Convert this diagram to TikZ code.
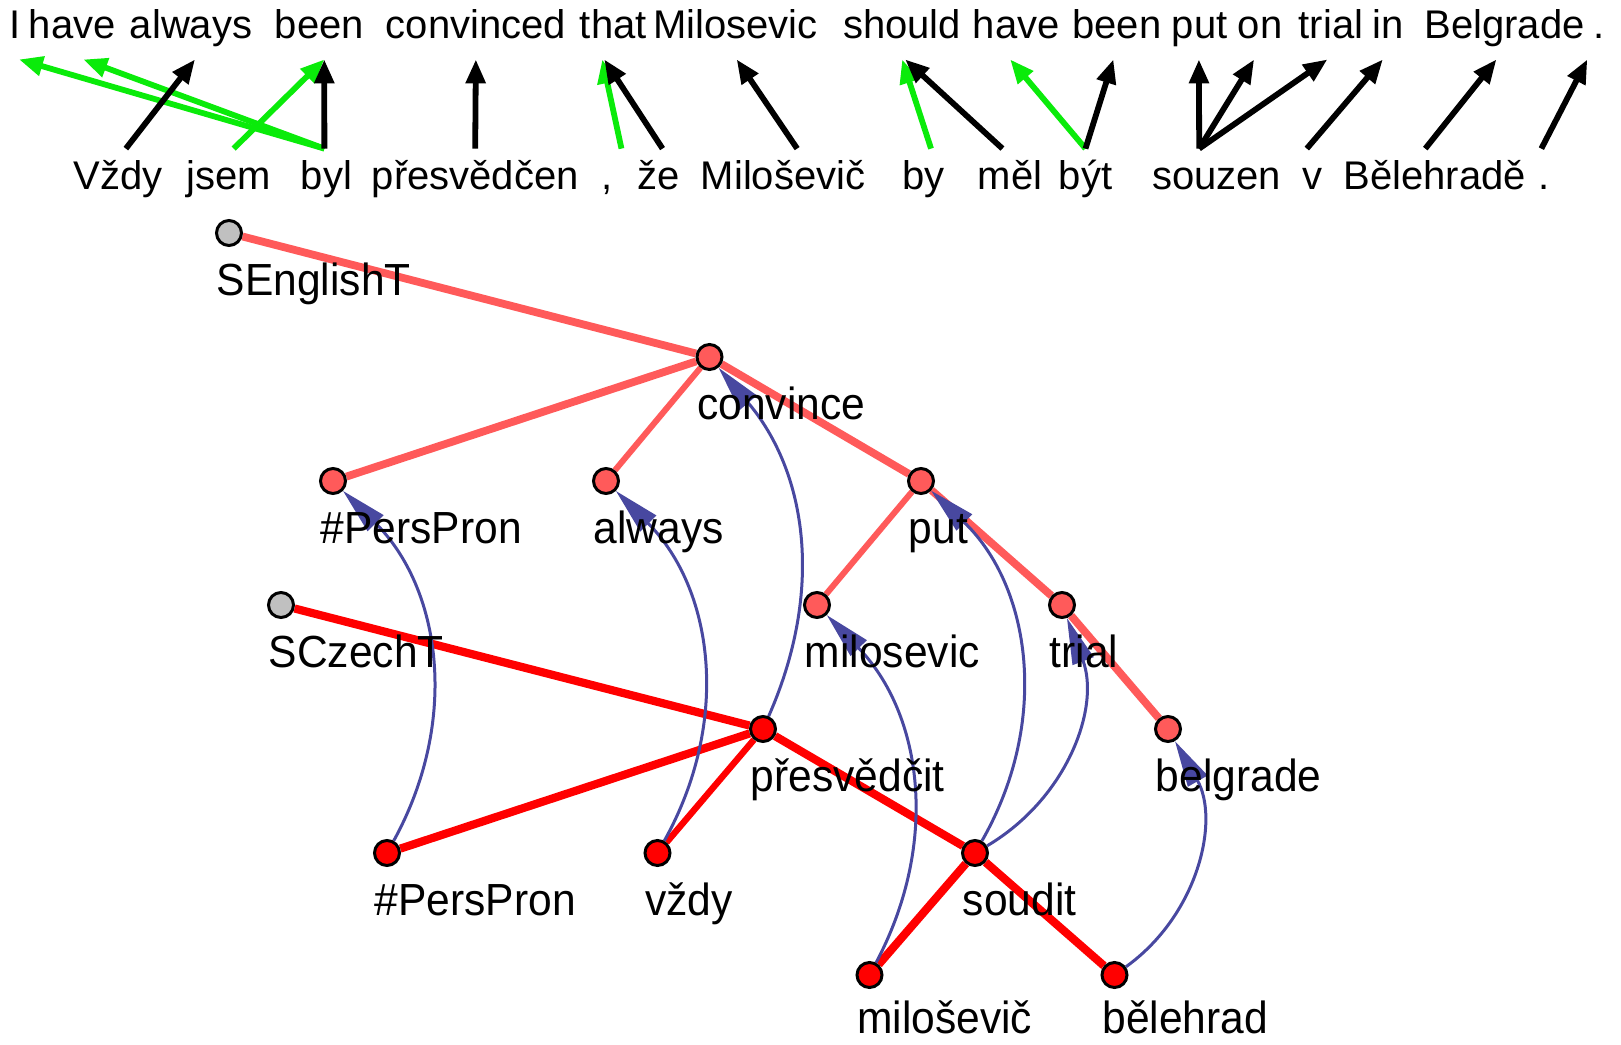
\documentclass[tikz,border=0pt]{standalone}
\usepackage{fontspec}
\setmainfont{Liberation Sans}
\newfontfamily\labfont[FakeStretch=0.945]{Liberation Sans}
\usetikzlibrary{arrows.meta}

\definecolor{enfill}{RGB}{255,90,90}
\definecolor{czfill}{RGB}{255,0,0}
\definecolor{rootfill}{RGB}{192,192,192}
\definecolor{alignblue}{RGB}{72,72,160}
\definecolor{alngreen}{RGB}{10,235,10}

\pgfdeclarelayer{edges}
\pgfsetlayers{edges,main}

\begin{document}
\begin{tikzpicture}[x=0.5pt,y=-0.5pt,
  tn/.style={circle,draw=black,line width=1.5pt,minimum size=12.5pt,inner sep=0pt},
  ent/.style={tn,fill=enfill},
  czt/.style={tn,fill=czfill},
  root/.style={tn,fill=rootfill},
  tlab/.style={anchor=base west,inner sep=0pt,text depth=0pt,font=\labfont\fontsize{22.5pt}{27pt}\selectfont},
  enw/.style={anchor=base west,inner sep=0pt,text depth=10pt,font=\fontsize{20pt}{24pt}\selectfont},
  czw/.style={anchor=base west,inner sep=0pt,text height=20pt,font=\fontsize{20pt}{24pt}\selectfont},
  wa/.style={line width=2.9pt,-{Triangle[length=12pt,width=9.5pt]}},
  blk/.style={wa,draw=black,fill=black},
  grn/.style={wa,draw=alngreen,fill=alngreen},
  enE/.style={line width=3.9pt,draw=enfill},
  enEthin/.style={line width=3pt,draw=enfill},
  czE/.style={line width=4.1pt,draw=czfill},
  czEthin/.style={line width=3.2pt,draw=czfill},
  aln/.style={line width=1.5pt,draw=alignblue,-{Triangle[length=23pt,width=11pt,fill=alignblue]}},
]
\useasboundingbox (0,0) rectangle (1621,1044);

% English sentence
\node[enw] (w1)  at (9,39)      {I};
\node[enw] (w2)  at (28.5,39)   {have};
\node[enw] (w3)  at (129.5,39)  {always};
\node[enw] (w4)  at (274.4,39)  {been};
\node[enw] (w5)  at (385.4,39)  {convinced};
\node[enw] (w6)  at (579.5,39)  {that};
\node[enw] (w7)  at (653,39)    {Milosevic};
\node[enw] (w8)  at (842.8,39)  {should};
\node[enw] (w9)  at (972.4,39)  {have};
\node[enw] (w10) at (1072,39)   {been};
\node[enw] (w11) at (1171.4,39) {put};
\node[enw] (w12) at (1237.5,39) {on};
\node[enw] (w13) at (1298.3,39) {trial};
\node[enw] (w14) at (1372.4,39) {in};
\node[enw] (w15) at (1424,39)   {Belgrade};
\node[enw] (w16) at (1593,39)   {.};

% Czech sentence
\node[czw] (c1)  at (73,189)     {Vždy};
\node[czw] (c2)  at (186,189)    {jsem};
\node[czw] (c3)  at (300.4,189)  {byl};
\node[czw] (c4)  at (371.4,189)  {přesvědčen};
\node[czw] (c5)  at (601.5,189)  {,};
\node[czw] (c6)  at (637,189)    {že};
\node[czw] (c7)  at (700.5,189)  {Miloševič};
\node[czw] (c8)  at (902,189)    {by};
\node[czw] (c9)  at (977.4,189)  {měl};
\node[czw] (c10) at (1058.4,189) {být};
\node[czw] (c11) at (1151.8,189) {souzen};
\node[czw] (c12) at (1301.7,189) {v};
\node[czw] (c13) at (1343,189)   {Bělehradě};
\node[czw] (c14) at (1538,189)   {.};

% word alignment arrows
\draw[grn] ([xshift=2.5pt]c2.north) -- ([xshift=2.5pt]w4.south);
\draw[grn] ([xshift=-1pt]c3.north) -- ([xshift=2pt]w1.south);
\draw[grn] ([xshift=-1pt]c3.north) -- ([xshift=5.5pt]w2.south);
\draw[grn] ([xshift=7pt]c5.north) -- ([xshift=-5.5pt]w6.south);
\draw[grn] ([xshift=3.75pt]c8.north) -- (w8.south);
\draw[grn] (c10.north) -- ([xshift=-3pt]w9.south);
\draw[blk] ([xshift=4pt]c1.north) -- ([xshift=2pt]w3.south);
\draw[blk] ([xshift=-1pt]c3.north) -- ([xshift=2.5pt]w4.south);
\draw[blk] (c4.north) -- (w5.south);
\draw[blk] ([xshift=2pt]c6.north) -- ([xshift=-4.5pt]w6.south);
\draw[blk] ([xshift=7pt]c7.north) -- ([xshift=0.5pt]w7.south);
\draw[blk] ([xshift=-3.8pt]c9.north) -- ([xshift=1.5pt]w8.south);
\draw[blk] (c10.north) -- ([xshift=-1.75pt]w10.south);
\draw[blk] ([xshift=-8.75pt]c11.north) -- ([xshift=-0.35pt]w11.south);
\draw[blk] ([xshift=-8.75pt]c11.north) -- ([xshift=-3pt]w12.south);
\draw[blk] ([xshift=-8.75pt]c11.north) -- ([xshift=-1.75pt]w13.south);
\draw[blk] ([xshift=-2.65pt]c12.north) -- ([xshift=-2.75pt]w14.south);
\draw[blk] ([xshift=-4.65pt]c13.north) -- ([xshift=-4pt]w15.south);
\draw[blk] ([xshift=-1.3pt]c14.north) -- ([xshift=-5.8pt]w16.south);

% English tree
\node[root] (sEng)   at (229,233)    {};
\node[ent]  (convince) at (709.5,357) {};
\node[ent]  (ePP)    at (333,481)    {};
\node[ent]  (always) at (606,481)    {};
\node[ent]  (put)    at (921,481)    {};
\node[ent]  (milosevic) at (817,605) {};
\node[ent]  (trial)  at (1062,605)   {};
\node[ent]  (belgrade) at (1168,729) {};

% Czech tree
\node[root] (sCz)    at (281,605)    {};
\node[czt]  (presv)  at (763,729)    {};
\node[czt]  (cPP)    at (387,853)    {};
\node[czt]  (vzdy)   at (657.5,853)  {};
\node[czt]  (soudit) at (975,853)    {};
\node[czt]  (milos)  at (869.5,975)  {};
\node[czt]  (belehrad) at (1114.5,975) {};

\begin{pgfonlayer}{edges}
  \draw[enE] (sEng) -- (convince);
  \draw[enE] (convince) -- (ePP);
  \draw[enEthin] (convince) -- (always);
  \draw[enE] (convince) -- (put);
  \draw[enEthin] (put) -- (milosevic);
  \draw[enE] (put) -- (trial);
  \draw[enE] (trial) -- (belgrade);

  \draw[czE] (sCz) -- (presv);
  \draw[czE] (presv) -- (cPP);
  \draw[czEthin] (presv) -- (vzdy);
  \draw[czE] (presv) -- (soudit);
  \draw[czE] (soudit) -- (milos);
  \draw[czE] (soudit) -- (belehrad);

  % node alignment links
  \draw[aln] (cPP) to[bend right=37] (ePP);
  \draw[aln] (vzdy) to[bend right=37] (always);
  \draw[aln] (presv) to[bend right=32] (convince);
  \draw[aln] (milos) to[bend right=36] (milosevic);
  \draw[aln] (soudit) to[bend right=38] (put);
  \draw[aln] (soudit) to[bend right=40] (trial);
  \draw[aln] (belehrad) to[bend right=42] (belgrade);
\end{pgfonlayer}

% tree labels
\node[tlab] (lsEng) at ([shift={(-12.5,62)}]sEng.center) {SEnglishT};
\node[tlab] (lconvince) at ([shift={(-12.5,62)}]convince.center) {convince};
\node[tlab] (lePP) at ([shift={(-12.5,62)}]ePP.center) {\#PersPron};
\node[tlab] (lalways) at ([shift={(-12.5,62)}]always.center) {always};
\node[tlab] (lput) at ([shift={(-12.5,62)}]put.center) {put};
\node[tlab] (lmilosevic) at ([shift={(-12.5,62)}]milosevic.center) {milosevic};
\node[tlab] (ltrial) at ([shift={(-12.5,62)}]trial.center) {trial};
\node[tlab] (lbelgrade) at ([shift={(-12.5,62)}]belgrade.center) {belgrade};
\node[tlab] (lsCz) at ([shift={(-12.5,62)}]sCz.center) {SCzechT};
\node[tlab] (lpresv) at ([shift={(-12.5,62)}]presv.center) {přesvědčit};
\node[tlab] (lcPP) at ([shift={(-12.5,62)}]cPP.center) {\#PersPron};
\node[tlab] (lvzdy) at ([shift={(-12.5,62)}]vzdy.center) {vždy};
\node[tlab] (lsoudit) at ([shift={(-12.5,62)}]soudit.center) {soudit};
\node[tlab] (lmilos) at ([shift={(-12.5,58)}]milos.center) {miloševič};
\node[tlab] (lbelehrad) at ([shift={(-12.5,58)}]belehrad.center) {bělehrad};
\end{tikzpicture}
\end{document}
